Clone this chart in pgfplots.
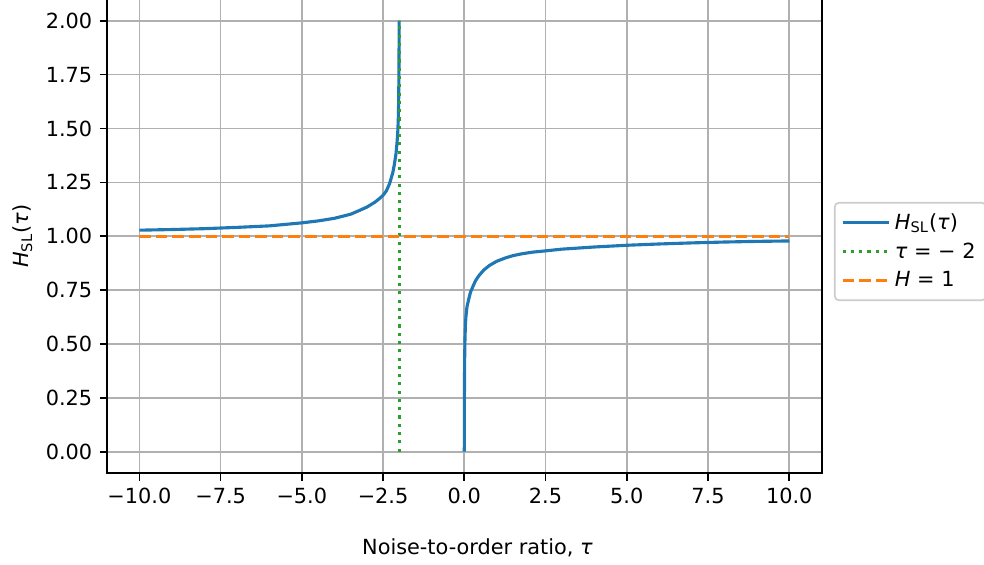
\documentclass[border=0pt]{standalone}
\usepackage{fontspec}
\setmainfont{DejaVu Sans}
\usepackage{pgfplots}
\pgfplotsset{compat=1.18}
\definecolor{mblue}{HTML}{1F77B4}
\definecolor{mgreen}{HTML}{2CA02C}
\definecolor{morange}{HTML}{FF7F0E}
\definecolor{gridgray}{HTML}{B0B0B0}
\definecolor{leggray}{HTML}{CCCCCC}
\begin{document}
\fontsize{10}{12}\selectfont
\begin{tikzpicture}
\begin{axis}[name=ax, scale only axis, width=343.2pt, height=227.6pt,
  xmin=-11, xmax=11, ymin=-0.1, ymax=2.1,
  xtick={-10,-7.5,-5,-2.5,0,2.5,5,7.5,10},
  xticklabels={−10.0,−7.5,−5.0,−2.5,0.0,2.5,5.0,7.5,10.0},
  ytick={0,0.25,0.5,0.75,1,1.25,1.5,1.75,2},
  yticklabels={0.00,0.25,0.50,0.75,1.00,1.25,1.50,1.75,2.00},
  tick align=outside, tick pos=left, major tick length=3.5pt,
  every tick/.style={black, line width=0.8pt},
  axis line style={line width=0.8pt},
  grid=major, major grid style={color=gridgray, line width=0.8pt},
  ticklabel style={font=\fontsize{10}{12}\selectfont},
  xlabel={Noise-to-order ratio, \textit{τ}},
  ylabel={\textit{H}\textsubscript{SL}(\textit{τ})},
  every axis x label/.style={at={(axis description cs:0.5184,-0.1577)}, anchor=center},
  every axis y label/.style={at={(axis description cs:-0.118,0.5)}, rotate=90, anchor=center},
  legend style={at={(1.017,0.4677)}, anchor=west, draw=leggray, line width=0.8pt,
    rounded corners=2pt, fill=white, font=\fontsize{10}{12}\selectfont, row sep=1pt,
    inner xsep=3pt, inner ysep=3pt},
  legend cell align=left,
  legend image code/.code={\draw[#1] (0pt,0pt) -- (22.4pt,0pt);},
]
\addplot[mblue, line width=1.5pt, line join=round] coordinates {
(-10,1.028) (-9,1.031) (-8,1.035) (-7.5,1.038) (-7,1.041) (-6,1.048) (-5,1.062)
(-4.5,1.071) (-4,1.083) (-3.5,1.102) (-3.25,1.118) (-3,1.135) (-2.75,1.158)
(-2.6,1.176) (-2.5,1.190) (-2.4,1.210) (-2.3,1.244) (-2.2,1.295) (-2.15,1.335)
(-2.1,1.385) (-2.07,1.435) (-2.045,1.49) (-2.03,1.55) (-2.02,1.63) (-2.013,1.73)
(-2.008,1.86) (-2.005,2.00)
};
\addlegendentry{\textit{H}\textsubscript{SL}(\textit{τ})}
\addplot[mgreen, line width=1.5pt, dash pattern=on 1.5pt off 2.475pt] coordinates {(-2,0) (-2,2)};
\addlegendentry{\textit{τ} = − 2}
\addplot[morange, line width=1.5pt, dash pattern=on 5.55pt off 2.4pt] coordinates {(-10,1) (10,1)};
\addlegendentry{\textit{H} = 1}
\addplot[mblue, line width=1.5pt, line join=round, forget plot] coordinates {
(0,0) (0.003,0.25) (0.01,0.42) (0.02,0.52) (0.035,0.59) (0.05,0.626) (0.08,0.670)
(0.13,0.704) (0.19,0.740) (0.26,0.765) (0.35,0.795) (0.46,0.819) (0.6,0.843)
(0.77,0.864) (1.0,0.884) (1.28,0.900) (1.5,0.910) (1.79,0.919) (2.1,0.926)
(2.5,0.932) (3,0.940) (3.5,0.945) (4,0.950) (5,0.958) (6,0.964)
(7,0.969) (8,0.973) (9,0.976) (10,0.978)
};
\end{axis}
\pgfresetboundingbox
\path ([shift={(-51.3pt,-43.6pt)}]ax.south west) rectangle ([shift={(77.9pt,-0.4pt)}]ax.north east);
\end{tikzpicture}
\end{document}
